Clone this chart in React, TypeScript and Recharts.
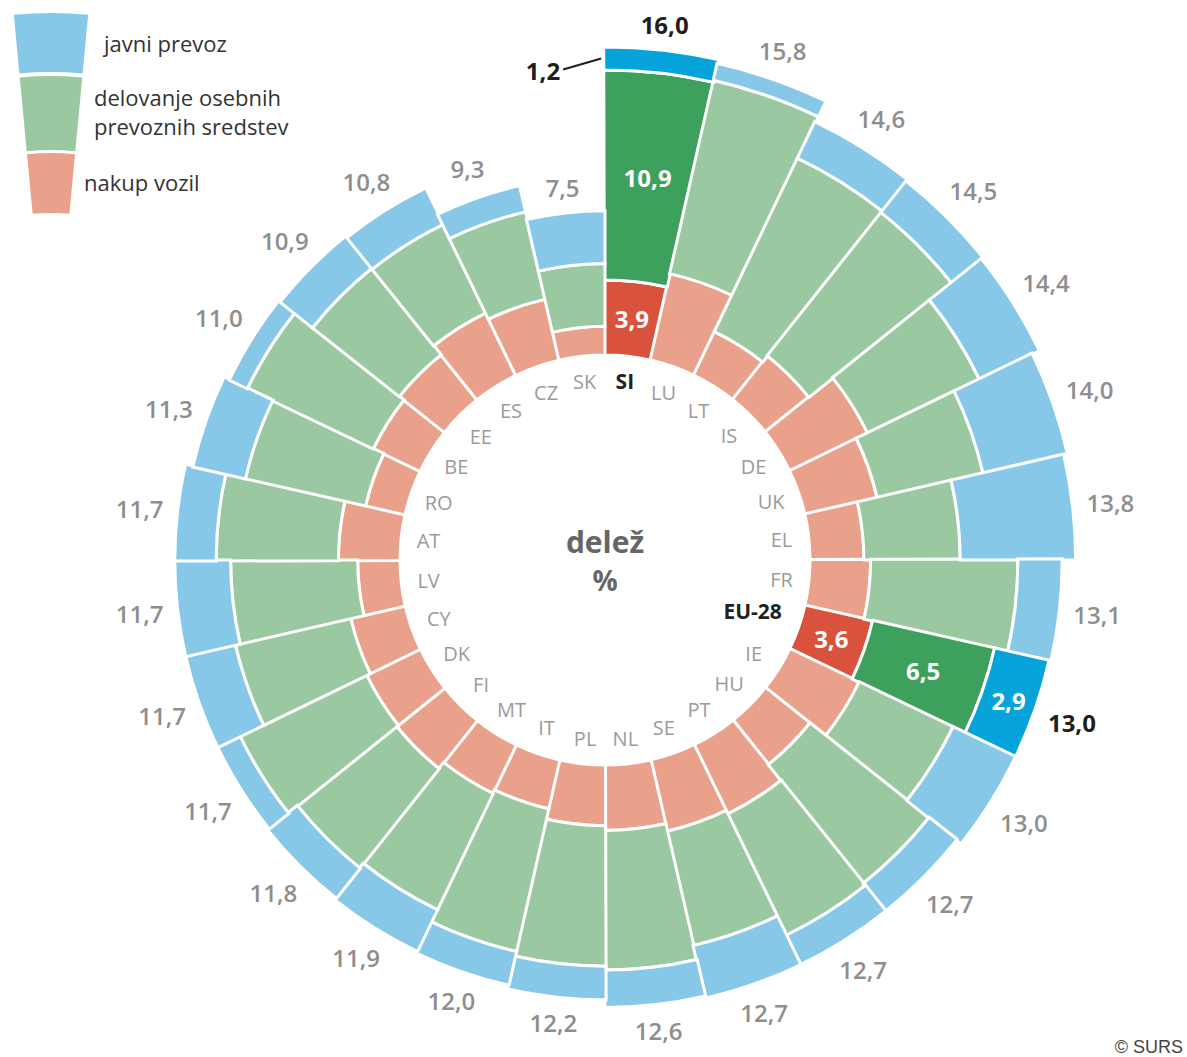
import React from "react";
import {
  RadialBarChart,
  RadialBar,
  PolarAngleAxis,
  PolarRadiusAxis,
  Cell,
  LabelList,
  Sector,
} from "recharts";

// countries clockwise from 12 o'clock
const countries = [
  "SI", "LU", "LT", "IS", "DE", "UK", "EL", "FR", "EU-28", "IE", "HU", "PT", "SE", "NL",
  "PL", "IT", "MT", "FI", "DK", "CY", "LV", "AT", "RO", "BE", "EE", "ES", "CZ", "SK",
];
// nakup vozil (%)
const nakupVozil = [
  3.9, 4.6, 2.5, 2.9, 4.5, 3.85, 2.8, 3.15, 3.6, 4.0, 2.95, 4.0, 3.8, 3.4,
  3.15, 2.6, 2.8, 3.2, 3.1, 2.9, 2.2, 3.2, 2.1, 2.7, 3.0, 3.6, 3.25, 1.5,
];
// delovanje osebnih prevoznih sredstev (%)
const delovanje = [
  10.9, 10.3, 10.0, 9.5, 6.45, 5.65, 5.0, 7.65, 6.5, 5.4, 7.9, 7.0, 6.1, 7.25,
  7.3, 7.6, 6.7, 6.6, 7.3, 6.15, 6.6, 6.35, 6.4, 7.25, 5.75, 5.1, 4.65, 3.25,
];
// javni prevoz (%)
const javniPrevoz = [
  1.2, 0.9, 2.1, 2.1, 3.45, 4.5, 6.0, 2.3, 2.9, 3.6, 1.85, 1.7, 2.8, 1.95,
  1.75, 1.8, 2.4, 2.0, 1.3, 2.65, 2.9, 2.15, 2.8, 1.05, 2.15, 2.1, 1.4, 2.75,
];
// skupaj (label outside)
const skupaj = [
  16.0, 15.8, 14.6, 14.5, 14.4, 14.0, 13.8, 13.1, 13.0, 13.0, 12.7, 12.7, 12.7, 12.6,
  12.2, 12.0, 11.9, 11.8, 11.7, 11.7, 11.7, 11.7, 11.3, 11.0, 10.9, 10.8, 9.3, 7.5,
];
const highlighted = ["SI", "EU-28"];

const data = countries.map((country, i) => ({
  country,
  nakup: nakupVozil[i],
  delovanje: delovanje[i],
  javni: javniPrevoz[i],
  skupaj: skupaj[i],
}));

const RED = "#eaa18b";
const RED_HI = "#d9523b";
const GREEN = "#9ac8a1";
const GREEN_HI = "#3ea05d";
const BLUE = "#87c8e9";
const BLUE_HI = "#05a3d9";
const FONT = "'Open Sans', 'Noto Sans', sans-serif";

// one band = 360 / 28; the first band has to start at 12 o'clock
const BAND = 360 / countries.length;

const RAD = Math.PI / 180;
const fmt = (v: number) => v.toFixed(1).replace(".", ",");
const polar = (cx: number, cy: number, r: number, a: number) => ({
  x: cx + r * Math.cos(-a * RAD),
  y: cy + r * Math.sin(-a * RAD),
});

const CountryLabel = (props: any) => {
  const { viewBox, index } = props;
  if (!viewBox || viewBox.cx == null) return null;
  const name = countries[index];
  const hi = highlighted.includes(name);
  const mid = (viewBox.startAngle + viewBox.endAngle) / 2;
  const hw = (name.length * (hi ? 13 : 11.5)) / 2;
  const r = viewBox.innerRadius - 15 - hw * Math.abs(Math.cos(mid * RAD)) - 9 * Math.abs(Math.sin(mid * RAD));
  const p = polar(viewBox.cx, viewBox.cy, r, mid);
  return (
    <text x={p.x} y={p.y} textAnchor="middle" dominantBaseline="central" fontFamily={FONT}
      fontSize={hi ? 21 : 20} fontWeight={hi ? 700 : 400} fill={hi ? "#222" : "#9b9b9b"}>
      {name}
    </text>
  );
};

const TotalLabel = (props: any) => {
  const { viewBox, index } = props;
  if (!viewBox || viewBox.cx == null) return null;
  const hi = highlighted.includes(countries[index]);
  const mid = (viewBox.startAngle + viewBox.endAngle) / 2;
  const r = viewBox.outerRadius + 12 + 25 * Math.abs(Math.cos(mid * RAD)) + 11 * Math.abs(Math.sin(mid * RAD));
  const p = polar(viewBox.cx, viewBox.cy, r, mid);
  return (
    <text x={p.x} y={p.y} textAnchor="middle" dominantBaseline="central" fontFamily={FONT}
      fontSize={24} fontWeight={hi ? 700 : 600} fill={hi ? "#1e1e1e" : "#8e8e8e"}>
      {fmt(skupaj[index])}
    </text>
  );
};

const makeInnerLabel = (values: number[]) => (props: any) => {
  const { viewBox, index } = props;
  if (!viewBox || viewBox.cx == null) return null;
  if (!highlighted.includes(countries[index])) return null;
  const mid = (viewBox.startAngle + viewBox.endAngle) / 2;
  const rMid = (viewBox.innerRadius + viewBox.outerRadius) / 2;
  if (viewBox.outerRadius - viewBox.innerRadius < 30) {
    // thin segment: value outside, with a leader line from its left edge
    const a = polar(viewBox.cx, viewBox.cy, rMid, Math.max(viewBox.startAngle, viewBox.endAngle) + 0.3);
    return (
      <g>
        <line x1={a.x} y1={a.y} x2={a.x - 38} y2={a.y + 11} stroke="#1e1e1e" strokeWidth={2} />
        <text x={a.x - 41} y={a.y + 12} textAnchor="end" dominantBaseline="central" fontFamily={FONT}
          fontSize={24} fontWeight={700} fill="#1e1e1e">
          {fmt(values[index])}
        </text>
      </g>
    );
  }
  const p = polar(viewBox.cx, viewBox.cy, rMid, mid);
  return (
    <text x={p.x} y={p.y} textAnchor="middle" dominantBaseline="central" fontFamily={FONT}
      fontSize={24} fontWeight={700} fill="#ffffff">
      {fmt(values[index])}
    </text>
  );
};

const legendItems = [
  { fill: BLUE, inner: 336, outer: 395, lines: ["javni prevoz"], x: 104, y: 43 },
  { fill: GREEN, inner: 258, outer: 332, lines: ["delovanje osebnih", "prevoznih sredstev"], x: 94, y: 97 },
  { fill: RED, inner: 195, outer: 255, lines: ["nakup vozil"], x: 84, y: 182 },
];

export default function App() {
  return (
    <div style={{ position: "absolute", left: 0, top: 0, width: 1187, height: 1057, background: "#fff" }}>
      <RadialBarChart
        width={1187}
        height={1057}
        data={data}
        layout="centric"
        cx={605}
        cy={560}
        innerRadius={205}
        outerRadius={513}
        startAngle={90 - BAND}
        endAngle={-270 - BAND}
        barCategoryGap={0}
        barGap={0}
        margin={{ top: 0, right: 0, bottom: 0, left: 0 }}
      >
        <PolarAngleAxis type="category" dataKey="country" tick={false} axisLine={false} tickLine={false} />
        <PolarRadiusAxis type="number" domain={[0, 16]} tick={false} axisLine={false} tickLine={false} />
        <RadialBar dataKey="nakup" stackId="a" isAnimationActive={false} stroke="#fff" strokeWidth={3}>
          {data.map((d) => (
            <Cell key={d.country} fill={highlighted.includes(d.country) ? RED_HI : RED} />
          ))}
          <LabelList dataKey="nakup" content={CountryLabel} />
          <LabelList dataKey="nakup" content={makeInnerLabel(nakupVozil)} />
        </RadialBar>
        <RadialBar dataKey="delovanje" stackId="a" isAnimationActive={false} stroke="#fff" strokeWidth={3}>
          {data.map((d) => (
            <Cell key={d.country} fill={highlighted.includes(d.country) ? GREEN_HI : GREEN} />
          ))}
          <LabelList dataKey="delovanje" content={makeInnerLabel(delovanje)} />
        </RadialBar>
        <RadialBar dataKey="javni" stackId="a" isAnimationActive={false} stroke="#fff" strokeWidth={3}>
          {data.map((d) => (
            <Cell key={d.country} fill={highlighted.includes(d.country) ? BLUE_HI : BLUE} />
          ))}
          <LabelList dataKey="javni" content={makeInnerLabel(javniPrevoz)} />
          <LabelList dataKey="skupaj" content={TotalLabel} />
        </RadialBar>

        <text x={605} y={541} textAnchor="middle" dominantBaseline="central" fontFamily={FONT}
          fontSize={30} fontWeight={700} fill="#666">
          delež
        </text>
        <text x={605} y={580} textAnchor="middle" dominantBaseline="central" fontFamily={FONT}
          fontSize={28} fontWeight={700} fill="#666">
          %
        </text>

        {legendItems.map((it) => (
          <g key={it.fill}>
            <Sector cx={51} cy={408} innerRadius={it.inner} outerRadius={it.outer}
              startAngle={84.6} endAngle={95.4} fill={it.fill} />
            {it.lines.map((ln, k) => (
              <text key={ln} x={it.x} y={it.y + k * 29} dominantBaseline="central" fontFamily={FONT}
                fontSize={22} fill="#333">
                {ln}
              </text>
            ))}
          </g>
        ))}

        <text x={1183} y={1047} textAnchor="end" dominantBaseline="central"
          fontFamily="'Liberation Sans', Arial, sans-serif" fontSize={18} fill="#444">
          © SURS
        </text>
      </RadialBarChart>
    </div>
  );
}
